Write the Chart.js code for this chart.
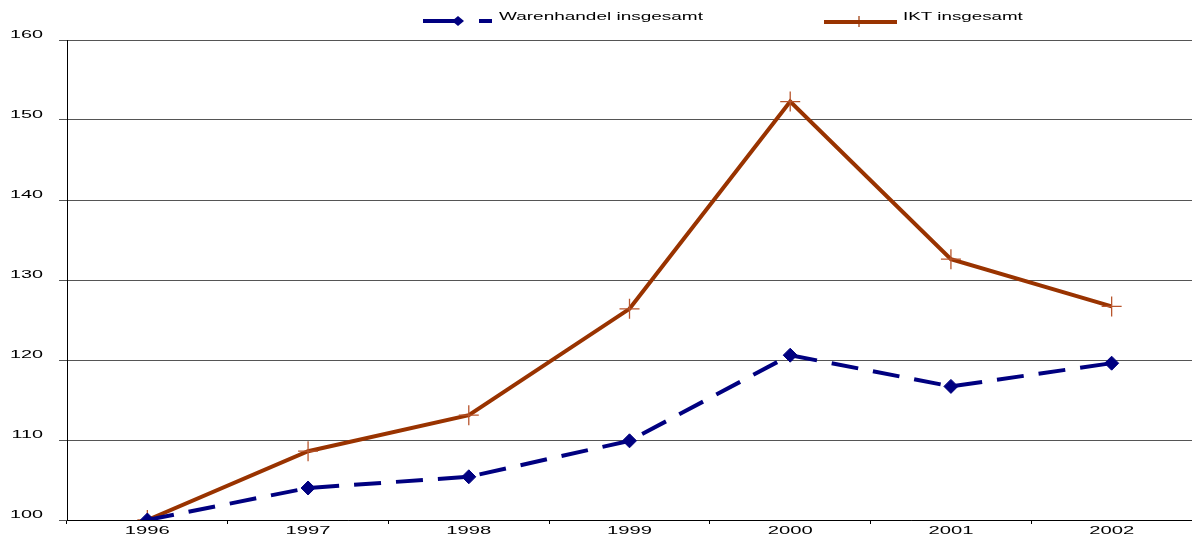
<!DOCTYPE html>
<html lang="de">
<head>
  <meta charset="UTF-8" />
  <title>Warenhandel und IKT</title>
  <script src="https://cdn.jsdelivr.net/npm/chart.js"></script>
  <style>
    html, body { margin: 0; padding: 0; background: #fff; }
    #wrap { width: 1192px; height: 535px; position: relative; }
  </style>
</head>
<body>
  <div id="wrap"><canvas id="chart"></canvas></div>

  <script>
    // Daten
    const years = ['1996', '1997', '1998', '1999', '2000', '2001', '2002'];
    const warenhandel = [100, 104.0, 105.4, 109.9, 120.6, 116.7, 119.6];
    const ikt = [100, 108.6, 113.1, 126.4, 152.3, 132.6, 126.7];
    const yTicks = [100, 110, 120, 130, 140, 150, 160];

    const NAVY = '#000080';
    const BROWN = '#993300';
    const FONT = '"Liberation Sans", Arial, sans-serif';

    // breit gezogene Schrift wie im Original
    function wideText(ctx, text, x, y, align, size, sx) {
      ctx.save();
      ctx.font = size + 'px ' + FONT;
      ctx.textBaseline = 'middle';
      ctx.textAlign = 'left';
      const w = ctx.measureText(text).width * sx;
      let left = x;
      if (align === 'right') left = x - w;
      if (align === 'center') left = x - w / 2;
      ctx.translate(left, y);
      ctx.scale(sx, 1);
      ctx.fillText(text, 0, 0);
      ctx.restore();
    }

    const labelsPlugin = {
      id: 'labelsPlugin',
      afterDraw(chart) {
        const ctx = chart.ctx;
        const xs = chart.scales.x;
        const ys = chart.scales.y;
        ctx.save();
        ctx.fillStyle = '#000';
        yTicks.forEach(v => {
          wideText(ctx, String(v), 43, ys.getPixelForValue(v) - 5, 'right', 11, 1.8);
        });
        years.forEach((y, i) => {
          wideText(ctx, y, xs.getPixelForTick(i), 531, 'center', 11, 1.84);
        });

        // Legende
        ctx.strokeStyle = NAVY;
        ctx.lineWidth = 4;
        ctx.beginPath(); ctx.moveTo(423, 21); ctx.lineTo(458, 21); ctx.stroke();
        ctx.beginPath(); ctx.moveTo(479, 21); ctx.lineTo(492, 21); ctx.stroke();
        ctx.fillStyle = NAVY;
        ctx.beginPath();
        ctx.moveTo(458, 16); ctx.lineTo(464, 21); ctx.lineTo(458, 26); ctx.lineTo(452, 21);
        ctx.closePath(); ctx.fill();

        ctx.strokeStyle = BROWN;
        ctx.beginPath(); ctx.moveTo(824, 22); ctx.lineTo(897, 22); ctx.stroke();
        ctx.lineWidth = 1.2;
        ctx.beginPath(); ctx.moveTo(859, 16); ctx.lineTo(859, 27); ctx.stroke();

        ctx.fillStyle = '#000';
        wideText(ctx, 'Warenhandel insgesamt', 499, 17, 'left', 11.5, 1.65);
        wideText(ctx, 'IKT insgesamt', 903, 17, 'left', 11.5, 1.63);
        ctx.restore();
      }
    };

    new Chart(document.getElementById('chart'), {
      type: 'line',
      data: {
        labels: years,
        datasets: [
          {
            label: 'Warenhandel insgesamt',
            data: warenhandel,
            borderColor: NAVY,
            backgroundColor: NAVY,
            borderWidth: 4,
            borderDash: [27, 15],
            pointStyle: 'rectRot',
            pointRadius: 7,
            pointBackgroundColor: NAVY,
            pointBorderColor: NAVY,
            pointBorderWidth: 1,
            tension: 0
          },
          {
            label: 'IKT insgesamt',
            data: ikt,
            borderColor: BROWN,
            backgroundColor: BROWN,
            borderWidth: 4,
            pointStyle: 'cross',
            pointRadius: 10,
            pointBorderColor: '#b8552c',
            pointBorderWidth: 1.3,
            tension: 0
          }
        ]
      },
      options: {
        responsive: true,
        maintainAspectRatio: false,
        animation: false,
        layout: { autoPadding: false, padding: { top: 40, right: 0, left: 0, bottom: 0 } },
        plugins: {
          legend: { display: false },
          tooltip: { enabled: false }
        },
        scales: {
          x: {
            offset: true,
            grid: {
              offset: true,
              drawOnChartArea: false,
              drawTicks: true,
              tickLength: 4,
              color: '#000'
            },
            border: { color: '#000', width: 1 },
            ticks: { display: false },
            afterFit(scale) { scale.height = 15; }
          },
          y: {
            min: 100,
            max: 160,
            afterBuildTicks(scale) {
              scale.ticks = yTicks.map(v => ({ value: v }));
            },
            grid: {
              color: '#555',
              tickLength: 8,
              drawTicks: true
            },
            border: { color: '#000', width: 1 },
            ticks: { display: false },
            afterFit(scale) { scale.width = 67; }
          }
        }
      },
      plugins: [labelsPlugin]
    });
  </script>
</body>
</html>
